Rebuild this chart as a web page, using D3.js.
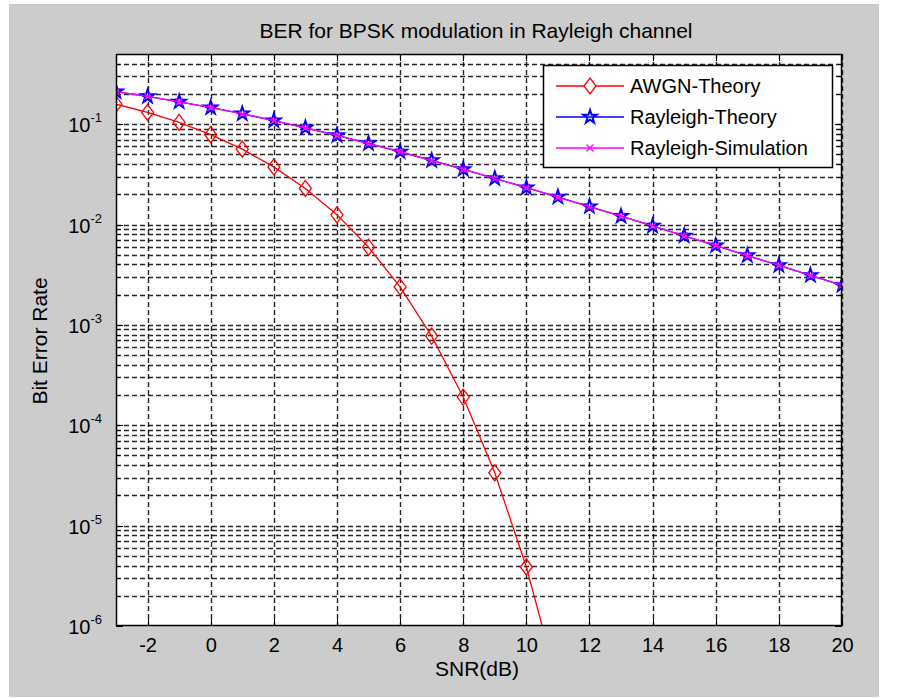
<!DOCTYPE html>
<html>
<head>
<meta charset="utf-8">
<script src="https://cdn.jsdelivr.net/npm/d3@7"></script>
<style>
  html, body { margin: 0; padding: 0; background: #ffffff; }
  svg { display: block; }
</style>
</head>
<body>
<svg id="chart" width="898" height="698"></svg>
<script>
// ── Data ──────────────────────────────────────────────────────
const snrAwgn = [-3, -2, -1, 0, 1, 2, 3, 4, 5, 6, 7, 8, 9, 10, 11];
const berAwgn = [0.158, 0.131, 0.104, 0.0786, 0.0563, 0.0375, 0.0229, 0.0125,
                 0.00595, 0.00239, 7.73e-4, 1.91e-4, 3.36e-5, 3.87e-6, 2.61e-7];

const snrRay = [-3, -2, -1, 0, 1, 2, 3, 4, 5, 6, 7, 8, 9, 10,
                11, 12, 13, 14, 15, 16, 17, 18, 19, 20];
const berRayTheory = [0.211, 0.189, 0.167, 0.146, 0.127, 0.1085, 0.0919, 0.0771,
                      0.0642, 0.0530, 0.0435, 0.0355, 0.0288, 0.0233, 0.0188, 0.0151,
                      0.0121, 0.00967, 0.00772, 0.00617, 0.00491, 0.00392, 0.00312, 0.00248];
const berRaySim = [0.2109, 0.1893, 0.1671, 0.1466, 0.1265, 0.1087, 0.0917, 0.0772,
                   0.0641, 0.0531, 0.0434, 0.0356, 0.0287, 0.0234, 0.0187, 0.0150,
                   0.0121, 0.00969, 0.00770, 0.00619, 0.00490, 0.00393, 0.00311, 0.00249];

const xTicks = [-2, 0, 2, 4, 6, 8, 10, 12, 14, 16, 18, 20];
const yExponents = [-6, -5, -4, -3, -2, -1];
const legendLabels = ['AWGN-Theory', 'Rayleigh-Theory', 'Rayleigh-Simulation'];

// ── Layout ────────────────────────────────────────────────────
const FONT = "'Liberation Sans', Arial, sans-serif";
const plot = { left: 116, right: 842, top: 54, bottom: 626 };

const svg = d3.select('#chart');

// figure background (grey panel)
svg.append('rect')
  .attr('x', 9).attr('y', 4)
  .attr('width', 870).attr('height', 693)
  .attr('fill', '#cccccc');

const x = d3.scaleLinear().domain([-3, 20]).range([plot.left, plot.right]);
const y = d3.scaleLog().domain([1e-6, 0.5]).range([plot.bottom, plot.top]);

// axes area
svg.append('rect')
  .attr('x', plot.left).attr('y', plot.top)
  .attr('width', plot.right - plot.left).attr('height', plot.bottom - plot.top)
  .attr('fill', '#ffffff');

svg.append('clipPath').attr('id', 'plot-clip')
  .append('rect')
  .attr('x', plot.left).attr('y', plot.top)
  .attr('width', plot.right - plot.left).attr('height', plot.bottom - plot.top);

// ── Grid ──────────────────────────────────────────────────────
const minorVals = [];
yExponents.forEach(e => {
  for (let k = 2; k <= 9; k++) {
    const v = k * Math.pow(10, e);
    if (v < 0.5) minorVals.push(v);
  }
});
const majorVals = yExponents.map(e => Math.pow(10, e));

const grid = svg.append('g').attr('class', 'grid')
  .attr('stroke', '#000')
  .attr('stroke-opacity', 0.85)
  .attr('stroke-width', 1.4)
  .attr('stroke-dasharray', '5,3');

grid.selectAll('.gx').data(xTicks).join('line')
  .attr('class', 'gx')
  .attr('x1', d => Math.round(x(d)) + 0.5).attr('x2', d => Math.round(x(d)) + 0.5)
  .attr('y1', plot.top).attr('y2', plot.bottom);

grid.selectAll('.gy').data(majorVals.concat(minorVals).filter(v => v > 1e-6)).join('line')
  .attr('class', 'gy')
  .attr('x1', plot.left).attr('x2', plot.right)
  .attr('y1', d => Math.round(y(d)) + 0.5).attr('y2', d => Math.round(y(d)) + 0.5);

// ── Tick marks (inside, on all four sides) ────────────────────
const ticks = svg.append('g').attr('stroke', '#000').attr('stroke-width', 1.2)
  .attr('shape-rendering', 'crispEdges');

xTicks.forEach(v => {
  const px = Math.round(x(v)) + 0.5;
  ticks.append('line').attr('x1', px).attr('x2', px).attr('y1', plot.bottom).attr('y2', plot.bottom - 7);
  ticks.append('line').attr('x1', px).attr('x2', px).attr('y1', plot.top).attr('y2', plot.top + 7);
});
majorVals.concat(minorVals).forEach(v => {
  const py = Math.round(y(v)) + 0.5;
  const len = majorVals.includes(v) ? 7 : 4;
  ticks.append('line').attr('x1', plot.left).attr('x2', plot.left + len).attr('y1', py).attr('y2', py);
  ticks.append('line').attr('x1', plot.right).attr('x2', plot.right - len).attr('y1', py).attr('y2', py);
});

// ── Series ────────────────────────────────────────────────────
const series = svg.append('g').attr('clip-path', 'url(#plot-clip)');

const lineGen = d3.line().x(d => x(d[0])).y(d => y(d[1]));
const awgnPts = snrAwgn.map((s, i) => [s, berAwgn[i]]);
const rayThPts = snrRay.map((s, i) => [s, berRayTheory[i]]);
const raySimPts = snrRay.map((s, i) => [s, berRaySim[i]]);

const diamondPath = 'M0,-8L6,0L0,8L-6,0Z';
const starPath = d3.symbol().type(d3.symbolStar).size(55)();
const crossPath = 'M-3.5,-3.5L3.5,3.5M-3.5,3.5L3.5,-3.5';

function drawSeries(pts, color, path, markerWidth) {
  series.append('path')
    .attr('d', lineGen(pts))
    .attr('fill', 'none')
    .attr('stroke', color)
    .attr('stroke-width', 1.3);
  series.selectAll(null).data(pts).join('path')
    .attr('transform', d => `translate(${x(d[0])},${y(d[1])})`)
    .attr('d', path)
    .attr('fill', 'none')
    .attr('stroke', color)
    .attr('stroke-width', markerWidth);
}

drawSeries(awgnPts, '#ff0000', diamondPath, 1.3);
drawSeries(rayThPts, '#0000ff', starPath, 2);
drawSeries(raySimPts, '#ff00ff', crossPath, 1.3);

// axes box
svg.append('rect')
  .attr('x', plot.left + 0.5).attr('y', plot.top + 0.5)
  .attr('width', plot.right - plot.left - 1).attr('height', plot.bottom - plot.top - 1)
  .attr('fill', 'none').attr('stroke', '#000').attr('stroke-width', 1.5);

// ── Tick labels ───────────────────────────────────────────────
const xAxis = d3.axisBottom(x).tickValues(xTicks).tickSize(0).tickPadding(0).tickFormat(d3.format('d'));
const xg = svg.append('g').attr('transform', `translate(0,${plot.bottom})`).call(xAxis);
xg.select('.domain').remove();
xg.selectAll('text')
  .attr('y', 26).attr('dy', null)
  .attr('font-family', FONT).attr('font-size', '20px').attr('fill', '#000')
  .text(d => d < 0 ? '-' + Math.abs(d) : d);

const yLabels = svg.append('g');
yExponents.forEach(e => {
  const t = yLabels.append('text')
    .attr('x', 102).attr('y', y(Math.pow(10, e)) + 8)
    .attr('text-anchor', 'end')
    .attr('font-family', FONT).attr('font-size', '20px').attr('fill', '#000');
  t.append('tspan').text('10');
  t.append('tspan').attr('dy', -10).attr('font-size', '13px').text(String(e));
});

// ── Titles ────────────────────────────────────────────────────
svg.append('text')
  .attr('x', 476).attr('y', 38)
  .attr('text-anchor', 'middle')
  .attr('font-family', FONT).attr('font-size', '21px').attr('fill', '#000')
  .text('BER for BPSK modulation in Rayleigh channel');

svg.append('text')
  .attr('x', 477).attr('y', 676)
  .attr('text-anchor', 'middle')
  .attr('font-family', FONT).attr('font-size', '21px').attr('fill', '#000')
  .text('SNR(dB)');

svg.append('text')
  .attr('transform', 'translate(47,341) rotate(-90)')
  .attr('text-anchor', 'middle')
  .attr('font-family', FONT).attr('font-size', '21px').attr('fill', '#000')
  .text('Bit Error Rate');

// ── Legend ────────────────────────────────────────────────────
const legend = svg.append('g');
legend.append('rect')
  .attr('x', 543.5).attr('y', 65.5).attr('width', 289).attr('height', 102)
  .attr('fill', '#ffffff').attr('stroke', '#000').attr('stroke-width', 1.5);

const legendColors = ['#ff0000', '#0000ff', '#ff00ff'];
const legendMarks = [diamondPath, starPath, crossPath];
const legendMarkWidths = [1.3, 2, 1.3];
legendLabels.forEach((label, i) => {
  const ly = 86 + i * 31;
  legend.append('line')
    .attr('x1', 556).attr('x2', 624).attr('y1', ly).attr('y2', ly)
    .attr('stroke', legendColors[i]).attr('stroke-width', 1.3);
  legend.append('path')
    .attr('transform', `translate(590,${ly})`)
    .attr('d', legendMarks[i])
    .attr('fill', i === 0 ? '#ffffff' : 'none')
    .attr('stroke', legendColors[i]).attr('stroke-width', legendMarkWidths[i]);
  legend.append('text')
    .attr('x', 630).attr('y', ly + 7)
    .attr('font-family', FONT).attr('font-size', '20px').attr('fill', '#000')
    .text(label);
});
</script>
</body>
</html>
